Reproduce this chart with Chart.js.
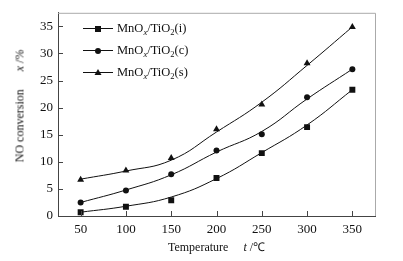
<!DOCTYPE html>
<html>
<head>
<meta charset="utf-8">
<script src="https://cdn.jsdelivr.net/npm/chart.js@4.4.0/dist/chart.umd.min.js"></script>
<style>
  html, body { margin:0; padding:0; background:#fff; }
  #wrap { position:relative; width:403px; height:261px; font-family:"Liberation Serif","Times New Roman",serif; color:#111; }
  #c { position:absolute; left:0; top:0; }
  .leg { position:absolute; left:83px; height:16px; display:flex; align-items:center; font-size:12.5px; }
  .leg .ln { position:relative; width:30px; height:1px; background:#111; }
  .leg .mk { position:absolute; left:50%; top:50%; transform:translate(-50%,-50%); }
  .leg .tx { margin-left:4px; white-space:nowrap; }
  sub { font-size:8.5px; vertical-align:-3px; line-height:0; }
  #xt { position:absolute; top:238px; left:0; width:433px; text-align:center; font-size:12px; white-space:nowrap; }
  #yt { position:absolute; left:20px; top:106px; transform:translate(-50%,-50%) rotate(-90deg); font-size:12px; white-space:nowrap; }
</style>
</head>
<body>
<div id="wrap">
  <canvas id="c" width="403" height="261"></canvas>
  <div class="leg" style="top:20.5px"><span class="ln"><svg class="mk" width="7" height="7"><rect x="0.5" y="0.5" width="6" height="6" fill="#111"/></svg></span><span class="tx">MnO<sub><i>x</i></sub>/TiO<sub>2</sub>(i)</span></div>
  <div class="leg" style="top:42.5px"><span class="ln"><svg class="mk" width="7" height="7"><circle cx="3.5" cy="3.5" r="3" fill="#111"/></svg></span><span class="tx">MnO<sub><i>x</i></sub>/TiO<sub>2</sub>(c)</span></div>
  <div class="leg" style="top:64px"><span class="ln"><svg class="mk" width="8" height="7"><polygon points="4,0.5 7.5,6.5 0.5,6.5" fill="#111"/></svg></span><span class="tx">MnO<sub><i>x</i></sub>/TiO<sub>2</sub>(s)</span></div>
  <div id="xt">Temperature&nbsp;&nbsp;&nbsp;&nbsp;&nbsp;<i>t</i> /℃</div>
  <div id="yt">NO conversion&nbsp;&nbsp;&nbsp;&nbsp;&nbsp;&nbsp;<i>x</i> /%</div>
</div>
<script>
// Temperature (°C)
const temps = [50, 100, 150, 200, 250, 300, 350];
// Measured NO conversion (%) — markers
const convI = [0.7, 1.7, 2.9, 7.0, 11.6, 16.4, 23.3];
const convC = [2.5, 4.7, 7.7, 12.1, 15.1, 21.9, 27.1];
const convS = [6.7, 8.4, 10.7, 16.0, 20.6, 28.2, 34.9];
// Fitted curves (%)
const fitI = [0.7, 1.8, 3.5, 6.9, 11.7, 16.8, 23.3];
const fitC = [2.5, 4.8, 7.6, 11.8, 15.6, 21.6, 27.1];
const fitS = [6.8, 8.3, 10.3, 15.5, 21.0, 27.8, 34.9];
// Tick labels
const xTicks = [50, 100, 150, 200, 250, 300, 350];
const yTicks = [0, 5, 10, 15, 20, 25, 30, 35];

const pts = (ys) => temps.map((t, i) => ({ x: t, y: ys[i] }));
const ink = '#111';

const fitLine = (ys) => ({
  type: 'line', data: pts(ys), borderColor: ink, borderWidth: 1,
  pointRadius: 0, fill: false, tension: 0.45
});
const markers = (ys, style, r) => ({
  type: 'scatter', data: pts(ys), showLine: false,
  pointStyle: style, pointRadius: r, backgroundColor: ink, borderColor: ink, borderWidth: 0
});

const frame = {
  id: 'frame',
  afterDraw(chart) {
    const { ctx, chartArea: a, scales: { x, y } } = chart;
    ctx.save();
    ctx.lineWidth = 1;
    ctx.strokeStyle = '#aaa';
    ctx.beginPath();
    ctx.moveTo(a.left, a.top + 0.5); ctx.lineTo(a.right + 0.5, a.top + 0.5);
    ctx.lineTo(a.right + 0.5, a.bottom);
    ctx.stroke();
    ctx.strokeStyle = '#444';
    ctx.beginPath();
    xTicks.forEach(v => {
      const px = Math.round(x.getPixelForValue(v)) + 0.5;
      ctx.moveTo(px, a.bottom); ctx.lineTo(px, a.bottom - 5);
    });
    yTicks.forEach(v => {
      const py = Math.round(y.getPixelForValue(v)) + 0.5;
      ctx.moveTo(a.left, py); ctx.lineTo(a.left + 5, py);
    });
    ctx.stroke();
    ctx.restore();
  }
};

new Chart(document.getElementById('c'), {
  data: {
    datasets: [
      fitLine(fitI), fitLine(fitC), fitLine(fitS),
      markers(convI, 'rect', 4.2), markers(convC, 'circle', 3), markers(convS, 'triangle', 4)
    ]
  },
  options: {
    responsive: false, animation: false,
    layout: { padding: { top: 8, right: 28, left: 0, bottom: 0 } },
    plugins: { legend: { display: false }, tooltip: { enabled: false } },
    scales: {
      x: {
        type: 'linear', position: 'bottom', min: 25, max: 375,
        afterBuildTicks: s => { s.ticks = xTicks.map(v => ({ value: v })); },
        afterFit: s => { s.height = 45; },
        grid: { display: false, drawTicks: false, tickLength: 0 },
        border: { display: true, color: '#444', width: 1 },
        ticks: { color: ink, padding: 6, maxRotation: 0, font: { family: 'Liberation Serif', size: 13 } }
      },
      y: {
        type: 'linear', min: 0, max: 37.5,
        afterBuildTicks: s => { s.ticks = yTicks.map(v => ({ value: v })); },
        afterFit: s => { s.width = 58; },
        grid: { display: false, drawTicks: false, tickLength: 0 },
        border: { display: true, color: '#444', width: 1 },
        ticks: { color: ink, padding: 5, font: { family: 'Liberation Serif', size: 13 } }
      }
    }
  },
  plugins: [frame]
});
</script>
</body>
</html>
